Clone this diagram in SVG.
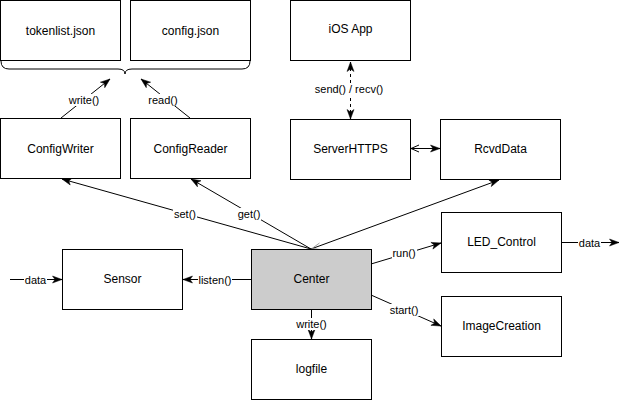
<svg xmlns="http://www.w3.org/2000/svg" width="630" height="403" viewBox="0 0 630 403">
<style>
.n rect{fill:#fff;stroke:#000;stroke-width:1}
.n text{font-family:"Liberation Sans",Arial,sans-serif;font-size:12px;fill:#000;text-anchor:middle}
.e line,.e path.l{stroke:#000;stroke-width:1;fill:none}
.lb rect{fill:#fff}
.lb text{font-family:"Liberation Sans",Arial,sans-serif;font-size:11px;fill:#000;text-anchor:middle}
</style>
<defs>
<marker id="arr" markerUnits="userSpaceOnUse" markerWidth="10" markerHeight="8" refX="9.5" refY="4" orient="auto-start-reverse" overflow="visible">
<path d="M0,0.5 L9.5,4 L0,7.5 L2.5,4 Z" fill="#000" stroke="#000" stroke-width="0.5"/>
</marker>
<marker id="open" markerUnits="userSpaceOnUse" markerWidth="10" markerHeight="8" refX="8" refY="4" orient="auto-start-reverse" overflow="visible">
<path d="M0,0.5 L8,4 L0,7.5" fill="none" stroke="#000" stroke-width="1"/>
</marker>
</defs>

<g id="connectors" class="e">
<path class="l" d="M1,61 Q1,69 9,69 L118,69 Q125,69 125,74 Q125,69 132,69 L242,69 Q250,69 250,61"/>
<line x1="61" y1="118" x2="110" y2="79" marker-end="url(#arr)"/>
<line x1="190" y1="118" x2="141" y2="79" marker-end="url(#arr)"/>
<line x1="350.5" y1="62" x2="350.5" y2="119" stroke-dasharray="3 3" marker-start="url(#arr)" marker-end="url(#arr)"/>
<line x1="411" y1="148.5" x2="440" y2="148.5" marker-start="url(#open)" marker-end="url(#arr)"/>
<line x1="311" y1="249" x2="62" y2="179" marker-end="url(#arr)"/>
<line x1="311" y1="249" x2="191" y2="179" marker-end="url(#arr)"/>
<line x1="311" y1="249" x2="499" y2="180" marker-end="url(#arr)"/>
<path d="M319.5,243 L312,248.5 L320,249.5" fill="none" stroke="#888" stroke-width="0.8"/>
<line x1="251" y1="279.5" x2="183" y2="279.5" marker-end="url(#arr)"/>
<line x1="10" y1="279.5" x2="62" y2="279.5" marker-end="url(#arr)"/>
<line x1="311.5" y1="309" x2="311.5" y2="339" marker-end="url(#arr)"/>
<line x1="371" y1="264" x2="441" y2="243" marker-end="url(#arr)"/>
<line x1="371" y1="295" x2="441" y2="326" marker-end="url(#arr)"/>
<line x1="561" y1="242.5" x2="619" y2="242.5" marker-end="url(#arr)"/>

<g class="lb">
<rect x="67" y="94" width="34" height="12"/><text x="84" y="104">write()</text>
<rect x="148" y="94" width="31" height="12"/><text x="163" y="104">read()</text>
<rect x="313" y="83" width="72" height="12"/><text x="349" y="93">send() / recv()</text>
<rect x="173" y="208" width="24" height="12"/><text x="185" y="218">set()</text>
<rect x="237" y="208" width="24" height="12"/><text x="249" y="218">get()</text>
<rect x="198" y="273.5" width="34" height="12"/><text x="215" y="283.5">listen()</text>
<rect x="24" y="273.5" width="23" height="12"/><text x="35.5" y="283.5">data</text>
<rect x="294" y="318" width="35" height="12"/><text x="311.5" y="328">write()</text>
<rect x="392" y="247" width="25" height="12"/><text x="404" y="257">run()</text>
<rect x="389" y="304" width="30" height="12"/><text x="404" y="314">start()</text>
<rect x="578" y="236.5" width="23" height="12"/><text x="589.5" y="246.5">data</text>
</g>
</g>

<g id="tokenlist" class="n"><rect x="0.5" y="0.5" width="120" height="60"/><text x="60.5" y="35">tokenlist.json</text></g>
<g id="config" class="n"><rect x="130.5" y="0.5" width="120" height="60"/><text x="190.5" y="35">config.json</text></g>
<g id="iosapp" class="n"><rect x="290.5" y="0.5" width="120" height="60"/><text x="350.5" y="33">iOS App</text></g>
<g id="configwriter" class="n"><rect x="0.5" y="118.5" width="120" height="60"/><text x="60.5" y="152.5">ConfigWriter</text></g>
<g id="configreader" class="n"><rect x="130.5" y="118.5" width="120" height="60"/><text x="190.5" y="152.5">ConfigReader</text></g>
<g id="serverhttps" class="n"><rect x="290.5" y="119.5" width="120" height="60"/><text x="350.5" y="152.5">ServerHTTPS</text></g>
<g id="rcvddata" class="n"><rect x="440.5" y="119.5" width="120" height="60"/><text x="500.5" y="152.5">RcvdData</text></g>
<g id="sensor" class="n"><rect x="62.5" y="249.5" width="120" height="60"/><text x="122.5" y="282.5">Sensor</text></g>
<g id="center" class="n"><rect x="251.5" y="249.5" width="120" height="60" style="fill:#cccccc"/><text x="311.5" y="282.5">Center</text></g>
<g id="logfile" class="n"><rect x="251.5" y="339.5" width="120" height="60"/><text x="311.5" y="372.5">logfile</text></g>
<g id="ledcontrol" class="n"><rect x="441.5" y="212.5" width="120" height="60"/><text x="501.5" y="246">LED_Control</text></g>
<g id="imagecreation" class="n"><rect x="441.5" y="296.5" width="120" height="60"/><text x="501.5" y="330">ImageCreation</text></g>
</svg>
